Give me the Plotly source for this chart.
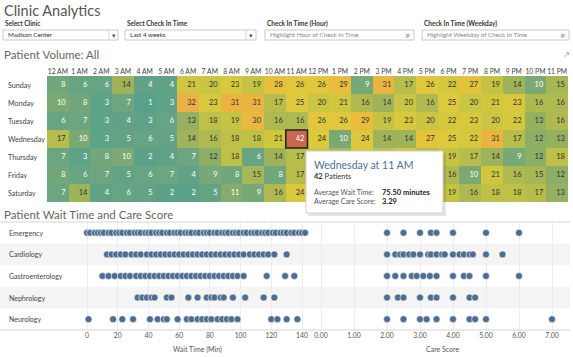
import plotly.graph_objects as go

# ---------------- data ----------------
hours = ["12 AM", "1 AM", "2 AM", "3 AM", "4 AM", "5 AM", "6 AM", "7 AM", "8 AM", "9 AM", "10 AM", "11 AM",
         "12 PM", "1 PM", "2 PM", "3 PM", "4 PM", "5 PM", "6 PM", "7 PM", "8 PM", "9 PM", "10 PM", "11 PM"]
days = ["Sunday", "Monday", "Tuesday", "Wednesday", "Thursday", "Friday", "Saturday"]

vol_sunday    = [8, 6, 6, 14, 4, 4, 21, 20, 23, 19, 28, 26, 26, 29, 9, 31, 17, 26, 22, 27, 19, 14, 10, 15]
vol_monday    = [10, 8, 3, 7, 1, 3, 32, 23, 31, 31, 17, 25, 20, 21, 16, 14, 20, 16, 25, 20, 21, 23, 16, 16]
vol_tuesday   = [6, 7, 3, 4, 3, 6, 13, 18, 19, 30, 16, 16, 26, 26, 29, 19, 23, 20, 22, 23, 20, 22, 13, 16]
vol_wednesday = [17, 10, 3, 5, 6, 5, 14, 16, 18, 18, 21, 42, 24, 10, 24, 14, 14, 27, 25, 22, 31, 17, 12, 13]
vol_thursday  = [7, 3, 8, 10, 2, 4, 7, 12, 18, 6, 14, 17, 20, 15, 22, 18, 21, 17, 19, 17, 14, 9, 12, 18]
vol_friday    = [8, 6, 7, 5, 6, 7, 4, 9, 8, 15, 8, 17, 19, 23, 17, 20, 14, 18, 16, 10, 21, 16, 15, 12]
vol_saturday  = [7, 14, 4, 6, 5, 2, 2, 5, 11, 9, 16, 24, 21, 18, 24, 16, 22, 20, 19, 16, 18, 18, 17, 13]
volume = [vol_sunday, vol_monday, vol_tuesday, vol_wednesday, vol_thursday, vol_friday, vol_saturday]

# cells hidden under the tooltip in the reference (rows Thu-Sat, 12 PM - 5 PM)
hidden_rows = [4, 5, 6]
hidden_cols = [12, 13, 14, 15, 16, 17]

departments = ["Emergency", "Cardiology", "Gastroenterology", "Nephrology", "Neurology"]

wait_emergency = [0, 2, 5, 7, 9, 11, 14, 16, 19, 21, 23, 26, 28, 31, 33, 35, 38, 40, 42, 45, 47, 49, 52,
                  54, 57, 59, 61, 64, 66, 68, 71, 73, 76, 78, 80, 83, 85, 88, 90, 92, 95, 97, 99, 102,
                  104, 107, 109, 111, 114, 116, 118, 121, 123, 126, 128, 130, 133, 135, 138, 140, 142]
wait_cardiology = [13, 16, 19, 22, 25, 29, 32, 35, 39, 42, 45, 48, 51, 54, 57, 60, 63, 66, 69, 72, 75,
                   78, 81, 84, 87, 90, 93, 96, 99, 102, 106, 109, 112, 115, 118, 122, 130]
wait_gastro = [10, 14, 18, 22, 25, 28, 32, 35, 38, 41, 44, 47, 50, 53, 56, 59, 62, 65, 68, 71, 74,
               77, 80, 83, 86, 89, 92, 95, 98, 102, 117, 129, 135]
wait_nephrology = [33, 36, 39, 42, 44, 52, 55, 66, 72, 78, 81, 83, 87, 89, 95, 103, 115, 122]
wait_neurology = [1, 17, 23, 30, 41, 46, 50, 52, 59, 65, 68, 72, 75, 78, 81, 85, 88, 91, 94, 98,
                  120, 124, 130, 137]

care_emergency = [2.0, 2.5, 3.0, 3.33, 3.5, 4.0, 5.0, 6.0]
care_cardiology = [2.0, 2.25, 2.4, 2.5, 2.67, 2.8, 3.0, 3.25, 3.33, 3.5, 3.67, 3.75, 4.0, 4.2,
                   4.33, 4.5, 4.6, 5.0, 5.5]
care_gastro = [2.0, 2.25, 2.5, 2.75, 2.9, 3.1, 3.3, 3.5, 4.0, 4.33, 4.5, 5.0, 6.0]
care_nephrology = [2.0, 2.33, 2.5, 3.0, 3.33, 3.5, 4.0, 4.5, 4.67]
care_neurology = [2.0, 2.5, 3.0, 3.2, 3.5, 4.0, 4.5, 4.67, 5.0, 7.0]

wait_by_dept = [wait_emergency, wait_cardiology, wait_gastro, wait_nephrology, wait_neurology]
care_by_dept = [care_emergency, care_cardiology, care_gastro, care_nephrology, care_neurology]

wait_ticks = [0, 20, 40, 60, 80, 100, 120, 140]
care_ticks = [0, 1, 2, 3, 4, 5, 6, 7]

tooltip_wait = 75.50
tooltip_care = 3.29

filters = [("Select Clinic", "Madison Center"), ("Select Check In Time", "Last 4 weeks"),
           ("Check In Time (Hour)", "Highlight Hour of Check In Time"),
           ("Check In Time (Weekday)", "Highlight Weekday of Check In Time")]

# ---------------- helpers ----------------
W, H = 573, 357
FONT = "Lato, Open Sans, sans-serif"


def X(p):
    return p / W


def Y(p):
    return 1 - p / H


colorscale = [
    [0.0, "#58a08a"], [0.12, "#66a483"], [0.22, "#7ca973"], [0.32, "#a0b35a"],
    [0.42, "#c0c146"], [0.5, "#d3c83e"], [0.6, "#e0c83b"], [0.7, "#eab93e"],
    [0.77, "#edae45"], [0.88, "#da8c4a"], [1.0, "#c7684f"],
]

fig = go.Figure()

fig.add_trace(go.Heatmap(
    z=volume, x=list(range(len(hours))), y=list(range(len(days))),
    zmin=1, zmax=42, colorscale=colorscale, showscale=False,
    xaxis="x", yaxis="y", hoverinfo="skip"))

tx, ty, tt, tc = [], [], [], []
for r, row in enumerate(volume):
    for c, v in enumerate(row):
        if r in hidden_rows and c in hidden_cols:
            continue
        tx.append(c + 0.36)
        ty.append(r)
        tt.append(str(v))
        tc.append("#ffffff" if (v < 12 or v >= 40) else "#333333")
fig.add_trace(go.Scatter(
    x=tx, y=ty, text=tt, mode="text", textposition="middle left",
    textfont=dict(size=7.5, color=tc, family=FONT),
    xaxis="x", yaxis="y", hoverinfo="skip", showlegend=False))

for i, vals in enumerate(wait_by_dept):
    fig.add_trace(go.Scatter(
        x=vals, y=[i] * len(vals), mode="markers",
        marker=dict(size=7, color="#4f6d91", line=dict(color="rgba(255,255,255,0.85)", width=0.7)),
        xaxis="x2", yaxis="y2", showlegend=False, hoverinfo="skip"))
for i, vals in enumerate(care_by_dept):
    fig.add_trace(go.Scatter(
        x=vals, y=[i] * len(vals), mode="markers",
        marker=dict(size=7, color="#4f6d91", line=dict(color="rgba(255,255,255,0.85)", width=0.7)),
        xaxis="x3", yaxis="y2", showlegend=False, hoverinfo="skip"))

shapes = []
annotations = []


def note(text, x, y, size, color, anchor="left", xref="paper", yref="paper"):
    annotations.append(dict(text=text, x=x, y=y, xref=xref, yref=yref, xanchor=anchor, yanchor="middle",
                            showarrow=False, font=dict(size=size, color=color, family=FONT)))


note("Clinic Analytics", X(2), Y(10), 14.5, "#555555")

boxes = [(3, 118, 109), (125, 256, 246), (265, 414, None), (422, 569, None)]
for (lab, val), (x0, x1, sep) in zip(filters, boxes):
    note("<b>" + lab + "</b>", X(x0), Y(24), 6.5, "#333333")
    shapes.append(dict(type="rect", xref="paper", yref="paper", x0=X(x0), x1=X(x1), y0=Y(40), y1=Y(30),
                       line=dict(color="#c9c9c9", width=1), fillcolor="#ffffff"))
    note(val, X(x0 + 3), Y(35), 6.3, "#333333" if sep else "#888888")
    if sep:
        shapes.append(dict(type="line", xref="paper", yref="paper", x0=X(sep), x1=X(sep), y0=Y(40), y1=Y(30),
                           line=dict(color="#d5d5d5", width=1)))
        note("▾", X((sep + x1) / 2), Y(35), 7, "#555555", anchor="center")
    else:
        note("ρ", X(x1 - 6), Y(35), 6.5, "#666666", anchor="center")

note("Patient Volume: All", X(2), Y(54), 11.5, "#666666")
note("↗", X(566), Y(54), 7, "#777777", anchor="center")
note("Patient Wait Time and Care Score", X(2), Y(214), 11.5, "#666666")

for i, d in enumerate(days):
    note(d, X(6), i, 7.2, "#444444", yref="y")

best_r, best_c = max(((r, c) for r in range(len(days)) for c in range(len(hours))),
                     key=lambda rc: volume[rc[0]][rc[1]])
shapes.append(dict(type="rect", xref="x", yref="y", x0=best_c - 0.5, x1=best_c + 0.5,
                   y0=best_r - 0.5, y1=best_r + 0.5, line=dict(color="#222222", width=1.5)))

for i in range(len(departments)):
    if i % 2 == 1:
        shapes.append(dict(type="rect", xref="paper", yref="y2", x0=0, x1=X(570), y0=i - 0.5, y1=i + 0.5,
                           fillcolor="#f4f4f4", line=dict(width=0), layer="below"))
    note(departments[i], X(7), i, 7, "#444444", yref="y2")
shapes.append(dict(type="line", xref="paper", yref="paper", x0=0, x1=X(570), y0=Y(222), y1=Y(222),
                   line=dict(color="#d4d4d4", width=1)))
shapes.append(dict(type="line", xref="paper", yref="paper", x0=0, x1=X(570), y0=Y(330), y1=Y(330),
                   line=dict(color="#d4d4d4", width=1)))

note("Wait Time (Min)", X(197), Y(349), 7, "#555555", anchor="center")
note("Care Score", X(443), Y(349), 7, "#555555", anchor="center")

# tooltip
shapes.append(dict(type="rect", xref="paper", yref="paper", x0=X(308), x1=X(446), y0=Y(216), y1=Y(153),
                   fillcolor="rgba(0,0,0,0.10)", line=dict(width=0)))
shapes.append(dict(type="rect", xref="paper", yref="paper", x0=X(306), x1=X(443), y0=Y(213), y1=Y(151),
                   fillcolor="#ffffff", line=dict(color="#cfcfcf", width=1)))
note(f"{days[best_r]} at {hours[best_c]}", X(312), Y(165), 10.5, "#4f6f95")
note(f"<b>{volume[best_r][best_c]}</b> Patients", X(312), Y(176), 7.5, "#333333")
note("Average Wait Time:", X(312), Y(192), 7, "#555555")
note(f"<b>{tooltip_wait:.2f} minutes</b>", X(380), Y(192), 7.5, "#222222")
note("Average Care Score:", X(312), Y(201), 7, "#555555")
note(f"<b>{tooltip_care:.2f}</b>", X(380), Y(201), 7.5, "#222222")

wait_px_per = (302 - 87) / 140.0
care_px_per = 33.0

fig.update_layout(
    width=W, height=H, margin=dict(l=0, r=0, t=0, b=0),
    paper_bgcolor="#ffffff", plot_bgcolor="rgba(0,0,0,0)",
    font=dict(family=FONT, color="#555555"),
    shapes=shapes, annotations=annotations, showlegend=False,
    xaxis=dict(domain=[X(47), X(568)], range=[-0.5, 23.5], side="top", anchor="y",
               tickvals=list(range(len(hours))), ticktext=hours, ticks="", tickangle=0,
               tickfont=dict(size=6.8, color="#444444", family=FONT),
               showgrid=False, zeroline=False, showline=False),
    yaxis=dict(domain=[Y(202), Y(76)], range=[6.5, -0.5], showticklabels=False, ticks="",
               showgrid=False, zeroline=False, showline=False, anchor="x"),
    xaxis2=dict(domain=[X(75), X(310)], range=[(75 - 87) / wait_px_per, (310 - 87) / wait_px_per],
                anchor="y2", tickvals=wait_ticks, ticktext=[str(t) for t in wait_ticks], ticks="", tickangle=0,
                tickfont=dict(size=6.8, color="#555555", family=FONT),
                showgrid=True, gridcolor="#ececec", gridwidth=1, zeroline=False, showline=False),
    xaxis3=dict(domain=[X(310), X(568)], range=[(310 - 321) / care_px_per, (568 - 321) / care_px_per],
                anchor="y2", tickvals=care_ticks, ticktext=[f"{t:.2f}" for t in care_ticks], ticks="", tickangle=0,
                tickfont=dict(size=6.8, color="#555555", family=FONT),
                showgrid=True, gridcolor="#ececec", gridwidth=1, zeroline=False, showline=False),
    yaxis2=dict(domain=[Y(330), Y(222)], range=[4.5, -0.5], showticklabels=False, ticks="",
                showgrid=False, zeroline=False, showline=False, anchor="x2"),
)

fig.write_html("out.html", config={"displayModeBar": False},
               post_script="document.body.style.margin='0px';")
